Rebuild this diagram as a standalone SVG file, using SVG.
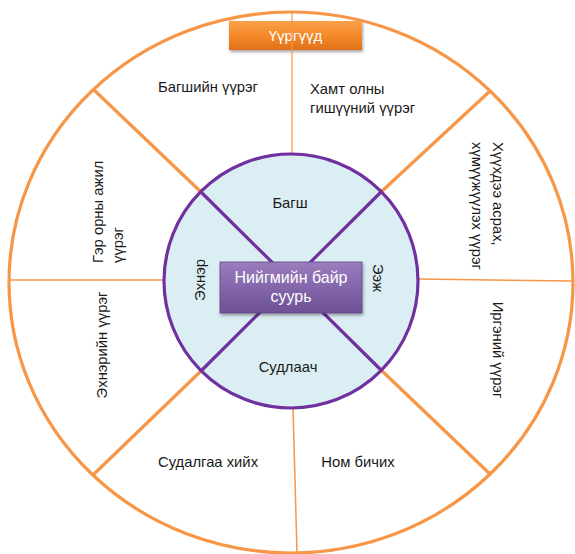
<svg xmlns="http://www.w3.org/2000/svg" width="575" height="554" viewBox="0 0 575 554">
<defs>
<linearGradient id="gOrange" x1="0" y1="0" x2="0" y2="1">
<stop offset="0" stop-color="#F9A04A"/>
<stop offset="0.5" stop-color="#F58A2A"/>
<stop offset="1" stop-color="#E0701A"/>
</linearGradient>
<linearGradient id="gPurple" x1="0" y1="0" x2="0" y2="1">
<stop offset="0" stop-color="#9A7DBE"/>
<stop offset="0.5" stop-color="#8466AA"/>
<stop offset="1" stop-color="#6E5196"/>
</linearGradient>
<filter id="shadow" x="-20%" y="-30%" width="140%" height="170%">
<feDropShadow dx="1" dy="2" stdDeviation="1.5" flood-color="#000" flood-opacity="0.35"/>
</filter>
</defs>
<style>
.lbl{font-family:"Liberation Sans",Arial,sans-serif;font-size:14.8px;fill:#1a1a1a;}
.box{font-family:"Liberation Sans",Arial,sans-serif;fill:#fff;}
.thick{stroke:#F79646;stroke-width:3.2;fill:none;}
.thin{stroke:#F79646;stroke-width:1.5;fill:none;}
.purple{stroke:#7030A0;stroke-width:3.2;}
</style>
<rect width="575" height="554" fill="#fff"/>
<g id="outer-ring">
<ellipse cx="291" cy="282.5" rx="282" ry="270.5" fill="#fff" class="thick"/>
</g>
<g id="title">
<rect x="229" y="21" width="133" height="29" fill="url(#gOrange)" filter="url(#shadow)"/>
<text class="box" x="295.5" y="41" font-size="15" text-anchor="middle">Үүргүүд</text>
</g>
<g id="connectors">
<line class="thin" x1="292" y1="12" x2="292" y2="155" stroke-opacity="0.8"/>
<line class="thin" x1="293" y1="408" x2="297" y2="553"/>
<line class="thin" x1="9" y1="280" x2="163" y2="280"/>
<line class="thin" x1="418" y1="279" x2="573" y2="281"/>
<line class="thick" x1="93" y1="89" x2="201" y2="192"/>
<line class="thick" x1="490" y1="91" x2="381" y2="192"/>
<line class="thick" x1="490" y1="474" x2="381" y2="370"/>
<line class="thick" x1="94" y1="474" x2="201" y2="371"/>
</g>
<g id="inner-circle">
<circle cx="291" cy="281" r="127" fill="#DAEEF3" class="purple"/>
<line class="purple" x1="201" y1="192" x2="381" y2="370"/>
<line class="purple" x1="381" y1="192" x2="201" y2="371"/>
</g>
<g id="center">
<rect x="220" y="262" width="142" height="51" fill="url(#gPurple)" stroke="#5F4585" stroke-width="0.8" filter="url(#shadow)"/>
<text class="box" font-size="16" text-anchor="middle"><tspan x="291" y="283">Нийгмийн байр</tspan><tspan x="291" y="302">суурь</tspan></text>
</g>
<g id="inner-labels">
<text class="lbl" x="290" y="208" text-anchor="middle">Багш</text>
<text class="lbl" x="288" y="372" text-anchor="middle">Судлаач</text>
<text class="lbl" transform="translate(205,280) rotate(-90)" text-anchor="middle">Эхнэр</text>
<text class="lbl" transform="translate(373,278) rotate(90)" text-anchor="middle">Ээж</text>
</g>
<g id="sector-teacher">
<text class="lbl" x="208" y="92" text-anchor="middle">Багшийн үүрэг</text>
</g>
<g id="sector-colleague">
<text class="lbl"><tspan x="310" y="94">Хамт олны</tspan><tspan x="310" y="113">гишүүний үүрэг</tspan></text>
</g>
<g id="sector-mother">
<text class="lbl" transform="translate(493,142) rotate(90)"><tspan x="0" y="0">Хүүхдээ асрах,</tspan><tspan x="0" y="21">хүмүүжүүлэх үүрэг</tspan></text>
</g>
<g id="sector-citizen">
<text class="lbl" transform="translate(493,350) rotate(90)" text-anchor="middle">Иргэний үүрэг</text>
</g>
<g id="sector-housework">
<text class="lbl" transform="translate(103,263) rotate(-90)"><tspan x="0" y="0">Гэр орны ажил</tspan><tspan x="0" y="20">үүрэг</tspan></text>
</g>
<g id="sector-wife">
<text class="lbl" transform="translate(107,345) rotate(-90)" text-anchor="middle">Эхнэрийн үүрэг</text>
</g>
<g id="sector-research">
<text class="lbl" x="208" y="467" text-anchor="middle">Судалгаа хийх</text>
</g>
<g id="sector-book">
<text class="lbl" x="358" y="467" text-anchor="middle">Ном бичих</text>
</g>
</svg>
